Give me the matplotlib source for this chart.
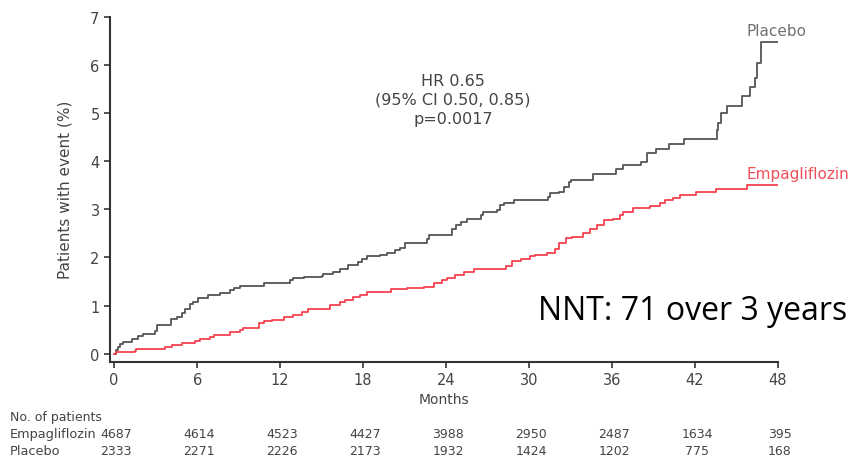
import matplotlib.pyplot as plt

# Kaplan-Meier style cumulative incidence, read as step points (month, %)
placebo_t = [0, 0.15, 0.3, 0.45, 0.63, 1.28, 1.75, 2.1, 2.96, 3.08, 4.12, 4.53, 4.9, 5.13,
             5.5, 5.73, 6.03, 6.82, 7.66, 8.4, 8.63, 9.1, 10.8, 12.7, 12.96, 13.7, 15.0,
             15.1, 15.85, 16.3, 16.9, 17.65, 17.9, 18.3, 19.2, 19.7, 20.3, 20.7, 21.0,
             22.6, 22.75, 24.4, 24.7, 25.1, 25.5, 26.5, 26.7, 27.7, 27.9, 28.2, 28.9,
             31.4, 31.5, 32.2, 32.5, 32.9, 33.0, 34.6, 36.3, 36.8, 38.1, 38.5, 39.2,
             40.1, 41.2, 43.6, 43.65, 43.9, 44.3, 45.4, 46.0, 46.35, 46.5, 46.8, 48]
placebo_y = [0, 0.08, 0.15, 0.2, 0.25, 0.3, 0.36, 0.42, 0.47, 0.6, 0.72, 0.77, 0.84, 0.94,
             1.03, 1.08, 1.15, 1.22, 1.26, 1.32, 1.36, 1.41, 1.46, 1.53, 1.58, 1.6, 1.62,
             1.65, 1.7, 1.76, 1.84, 1.91, 1.97, 2.02, 2.05, 2.1, 2.15, 2.2, 2.29,
             2.38, 2.47, 2.6, 2.67, 2.74, 2.8, 2.88, 2.95, 2.98, 3.09, 3.14, 3.19,
             3.26, 3.33, 3.36, 3.47, 3.57, 3.61, 3.74, 3.83, 3.92, 3.99, 4.16, 4.25,
             4.35, 4.46, 4.64, 4.8, 4.99, 5.15, 5.34, 5.54, 5.72, 6.03, 6.48, 6.48]

empa_t = [0, 0.1, 1.5, 1.6, 2.1, 3.7, 4.2, 4.9, 5.85, 6.2, 6.9, 7.2, 8.4, 9.1, 9.35,
          10.45, 10.8, 11.4, 12.25, 12.96, 13.6, 14.05, 15.0, 15.6, 16.3, 16.7, 17.3,
          17.8, 18.3, 20.05, 21.2, 22.4, 23.1, 23.7, 24.05, 24.65, 25.3, 26.0, 28.3,
          28.8, 29.4, 30.1, 30.4, 31.3, 31.9, 32.2, 32.7, 33.1, 33.9, 34.4, 34.9, 35.4,
          36.1, 36.6, 36.8, 37.55, 38.75, 39.5, 39.8, 40.4, 40.9, 42.1, 43.5, 45.75, 48]
empa_y = [0, 0.03, 0.05, 0.09, 0.11, 0.15, 0.18, 0.23, 0.27, 0.3, 0.34, 0.39, 0.46, 0.49, 0.54,
          0.63, 0.68, 0.7, 0.77, 0.8, 0.87, 0.92, 0.94, 1.01, 1.07, 1.12, 1.17,
          1.22, 1.29, 1.34, 1.37, 1.39, 1.46, 1.53, 1.57, 1.63, 1.7, 1.76, 1.83,
          1.93, 1.97, 2.02, 2.06, 2.1, 2.17, 2.29, 2.4, 2.43, 2.5, 2.6, 2.67, 2.78,
          2.8, 2.88, 2.95, 3.03, 3.07, 3.14, 3.19, 3.23, 3.29, 3.35, 3.42, 3.5, 3.51]

# numbers at risk
risk_months = [0, 6, 12, 18, 24, 30, 36, 42, 48]
risk_empa = [4687, 4614, 4523, 4427, 3988, 2950, 2487, 1634, 395]
risk_placebo = [2333, 2271, 2226, 2173, 1932, 1424, 1202, 775, 168]

gray = '#555555'
red = '#f5414f'
txt = '#444444'

fig = plt.figure(figsize=(8.51, 4.6), dpi=100)
ax = fig.add_axes([110 / 851, 1 - 363 / 460, (778 - 110) / 851, (363 - 17.5) / 460])

ax.step(placebo_t, placebo_y, where='post', color=gray, lw=1.3)
ax.step(empa_t, empa_y, where='post', color=red, lw=1.3)

ax.set_xlim(-0.3, 48)
ax.set_ylim(-0.17, 7)
ax.set_xticks(risk_months)
ax.set_yticks(range(0, 8))
for s in ['top', 'right']:
    ax.spines[s].set_visible(False)
for s in ['left', 'bottom']:
    ax.spines[s].set_color('#333333')
    ax.spines[s].set_linewidth(1.5)
ax.tick_params(direction='out', length=4, width=1.2, color='#333333',
               labelsize=10.5, labelcolor=txt)
ax.set_xlabel('Months', fontsize=10, color=txt, labelpad=3)
ax.set_ylabel('Patients with event (%)', fontsize=11, color=txt, labelpad=13)

ax.text(45.7, 6.55, 'Placebo', color='#707070', fontsize=11, ha='left', va='bottom')
ax.text(45.7, 3.58, 'Empagliflozin', color='#f0505a', fontsize=11, ha='left', va='bottom')

ax.text(24.5, 5.28, 'HR 0.65\n(95% CI 0.50, 0.85)\np=0.0017', color=txt, fontsize=11.5,
        ha='center', va='center', linespacing=1.35)

fig.text(847 / 851, 1 - 312 / 460, 'NNT: 71 over 3 years', fontsize=23, color='black',
         ha='right', va='center', family='Open Sans')

# numbers-at-risk table under the axis
fig.text(10 / 851, 1 - 418 / 460, 'No. of patients', fontsize=9, color=txt, va='center')
fig.text(10 / 851, 1 - 435 / 460, 'Empagliflozin', fontsize=9.3, color=txt, va='center')
fig.text(10 / 851, 1 - 452 / 460, 'Placebo', fontsize=9.3, color=txt, va='center')
tr = ax.get_xaxis_transform()
for m, e, p in zip(risk_months, risk_empa, risk_placebo):
    x0 = fig.transFigure.inverted().transform(tr.transform((m, 0)))[0]
    fig.text(x0 + 2 / 851, 1 - 435 / 460, str(e), fontsize=9, color=txt,
             ha='center', va='center')
    fig.text(x0 + 2 / 851, 1 - 452 / 460, str(p), fontsize=9, color=txt,
             ha='center', va='center')

fig.savefig('out.png', dpi=100)
